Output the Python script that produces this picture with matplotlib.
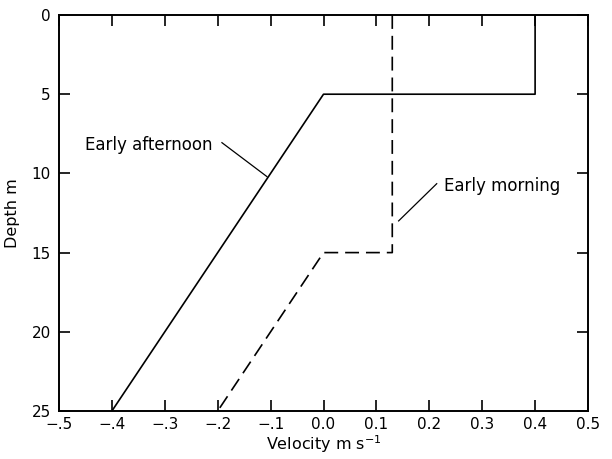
import matplotlib
matplotlib.use("Agg")
import matplotlib.pyplot as plt

# velocity profiles (depth in m, velocity in m/s)
afternoon_vel = [0.4, 0.4, 0.0, -0.4]
afternoon_depth = [0, 5, 5, 25]

morning_vel = [0.13, 0.13, 0.0, -0.2]
morning_depth = [0, 15, 15, 25]

xticks = [-0.5, -0.4, -0.3, -0.2, -0.1, 0.0, 0.1, 0.2, 0.3, 0.4, 0.5]
xtick_labels = ["\u2212.5", "\u2212.4", "\u2212.3", "\u2212.2", "\u2212.1",
                "0.0", "0.1", "0.2", "0.3", "0.4", "0.5"]
yticks = [0, 5, 10, 15, 20, 25]

plt.rcParams['font.family'] = ['DejaVu Sans']
plt.rcParams['lines.scale_dashes'] = False

fig = plt.figure(figsize=(6.12, 4.59), dpi=100)
ax = fig.add_axes([0.0964, 0.1046, 0.8644, 0.8627])

ax.plot(afternoon_vel, afternoon_depth, color='black', lw=1.2)
ax.plot(morning_vel, morning_depth, color='black', lw=1.2,
        linestyle=(0, (10, 5)))

ax.set_xlim(-0.5, 0.5)
ax.set_ylim(25, 0)
ax.set_xticks(xticks)
ax.set_xticklabels(xtick_labels)
ax.set_yticks(yticks)

ax.tick_params(direction='in', length=8, width=1.2, top=True, right=True,
               labelsize=11)
ax.tick_params(axis='x', pad=4)
ax.tick_params(axis='y', pad=6)
for sp in ax.spines.values():
    sp.set_linewidth(1.4)

ax.set_xlabel("Velocity m s$^{-1}$", fontsize=11.5, labelpad=1)
ax.set_ylabel("Depth m", fontsize=11.5, labelpad=8)

# labels with leader lines
ax.text(-0.451, 8.2, "Early afternoon", fontsize=12, va='center', ha='left')
ax.plot([-0.192, -0.107], [8.06, 10.2], color='black', lw=0.9)
ax.text(0.227, 10.8, "Early morning", fontsize=12, va='center', ha='left')
ax.plot([0.214, 0.142], [10.65, 13.0], color='black', lw=0.9)

fig.savefig("out.png", dpi=100)
